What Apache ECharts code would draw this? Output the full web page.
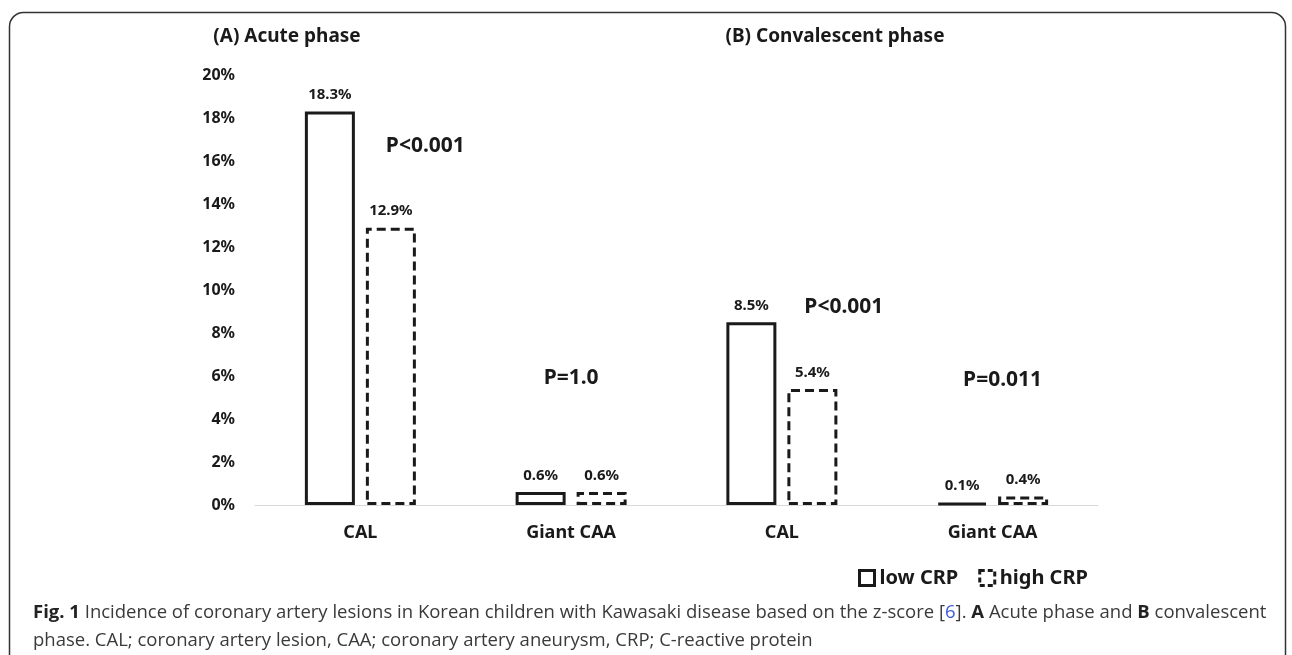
<!DOCTYPE html>
<html>
<head>
<meta charset="utf-8">
<script src="https://cdn.jsdelivr.net/npm/echarts@6/dist/echarts.min.js"></script>
<style>
  html, body { margin: 0; padding: 0; background: #fff; }
  #chart { width: 1292px; height: 655px; }
</style>
</head>
<body>
<div id="chart"></div>
<script>
// ---- data ----
const categories = ['CAL', 'Giant CAA', 'CAL', 'Giant CAA'];
const lowCRP = [18.3, 0.6, 8.5, 0.1];
const highCRP = [12.9, 0.6, 5.4, 0.4];
const yTicks = ['0%', '2%', '4%', '6%', '8%', '10%', '12%', '14%', '16%', '18%', '20%'];
const pTexts = ['P<0.001', 'P=1.0', 'P<0.001', 'P=0.011'];
const pAnchorY = [16.7, 5.9, 9.2, 5.8];
const panelTitles = ['(A) Acute phase', '(B) Convalescent phase'];
const seriesNames = ['low CRP', 'high CRP'];

const FONT = '"Noto Sans", "Open Sans", sans-serif';
const INK = '#1a1a1a';

const chart = echarts.init(document.getElementById('chart'), null, { renderer: 'canvas' });

const pOffsets = [[65, 0], [0, 0], [62, 0], [10, 0]];

const option = {
  backgroundColor: '#ffffff',
  animation: false,
  textStyle: { fontFamily: FONT },
  grid: { left: 255, right: 194, top: 75, bottom: 150, containLabel: false },
  legend: {
    left: 853,
    top: 563,
    itemWidth: 15,
    itemHeight: 15,
    itemGap: 20,
    icon: 'rect',
    textStyle: { fontFamily: FONT, fontWeight: 'bold', fontSize: 20, color: INK },
    data: [
      { name: seriesNames[0], itemStyle: { color: '#fff', borderColor: INK, borderWidth: 3, borderType: 'solid' } },
      { name: seriesNames[1], itemStyle: { color: '#fff', borderColor: INK, borderWidth: 3, borderType: [5, 3] } }
    ]
  },
  xAxis: {
    type: 'category',
    data: categories,
    axisLine: { show: true, lineStyle: { color: '#d9d9d9', width: 1 } },
    axisTick: { show: false },
    axisLabel: { fontFamily: FONT, fontWeight: 'bold', fontSize: 18, color: INK, margin: 19, interval: 0 },
    splitLine: { show: false }
  },
  yAxis: {
    type: 'value',
    min: 0,
    max: 20,
    interval: 2,
    axisLine: { show: false },
    axisTick: { show: false },
    splitLine: { show: false },
    axisLabel: {
      fontFamily: FONT, fontWeight: 'bold', fontSize: 16, color: INK, margin: 20,
      formatter: function (v) { return yTicks[Math.round(v / 2)]; }
    }
  },
  series: [
    {
      name: seriesNames[0],
      type: 'bar',
      data: lowCRP,
      barWidth: 50,
      barGap: '22%',
      itemStyle: { color: '#fff', borderColor: INK, borderWidth: 3, borderType: 'solid' },
      label: {
        show: true, position: 'top', distance: 9,
        formatter: '{c}%', fontFamily: FONT, fontWeight: 'bold', fontSize: 15, color: INK
      }
    },
    {
      name: seriesNames[1],
      type: 'bar',
      data: highCRP,
      barWidth: 50,
      itemStyle: { color: '#fff', borderColor: INK, borderWidth: 3, borderType: [9, 5] },
      label: {
        show: true, position: 'top', distance: 9,
        formatter: '{c}%', fontFamily: FONT, fontWeight: 'bold', fontSize: 15, color: INK
      }
    },
    {
      name: 'p',
      type: 'scatter',
      symbolSize: 0,
      silent: true,
      itemStyle: { opacity: 1 },
      data: pAnchorY.map(function (y, i) {
        return {
          value: [i, y],
          label: { offset: pOffsets[i] }
        };
      }),
      label: {
        show: true, position: 'inside',
        formatter: function (p) { return pTexts[p.dataIndex]; },
        fontFamily: FONT, fontWeight: 'bold', fontSize: 21, color: INK, opacity: 1
      }
    }
  ],
  graphic: [
    {
      type: 'rect', silent: true, z: -1,
      shape: { x: 9.5, y: 12.5, width: 1276, height: 700, r: 14 },
      style: { fill: 'none', stroke: '#333', lineWidth: 1.5 }
    },
    {
      type: 'text', x: 287, y: 37,
      style: { text: panelTitles[0], fontFamily: FONT, fontWeight: 'bold', fontSize: 19, fill: INK, align: 'center', verticalAlign: 'middle' }
    },
    {
      type: 'text', x: 835, y: 37,
      style: { text: panelTitles[1], fontFamily: FONT, fontWeight: 'bold', fontSize: 19, fill: INK, align: 'center', verticalAlign: 'middle' }
    },
    {
      type: 'text', left: 33, top: 599,
      style: {
        text: '{b|Fig. 1} Incidence of coronary artery lesions in Korean children with Kawasaki disease based on the z-score [{l|6}]. {b|A} Acute phase and {b|B} convalescent\nphase. CAL; coronary artery lesion, CAA; coronary artery aneurysm, CRP; C-reactive protein',
        fontFamily: '"Open Sans", sans-serif', fontSize: 18.5, fill: '#3a3a3a', lineHeight: 28,
        rich: {
          b: { fontFamily: '"Open Sans", sans-serif', fontWeight: 'bold', fontSize: 18.5, fill: '#222', lineHeight: 28 },
          l: { fontFamily: '"Open Sans", sans-serif', fontSize: 18.5, fill: '#3b5bdb', lineHeight: 28 }
        }
      }
    }
  ]
};

chart.setOption(option);
</script>
</body>
</html>
